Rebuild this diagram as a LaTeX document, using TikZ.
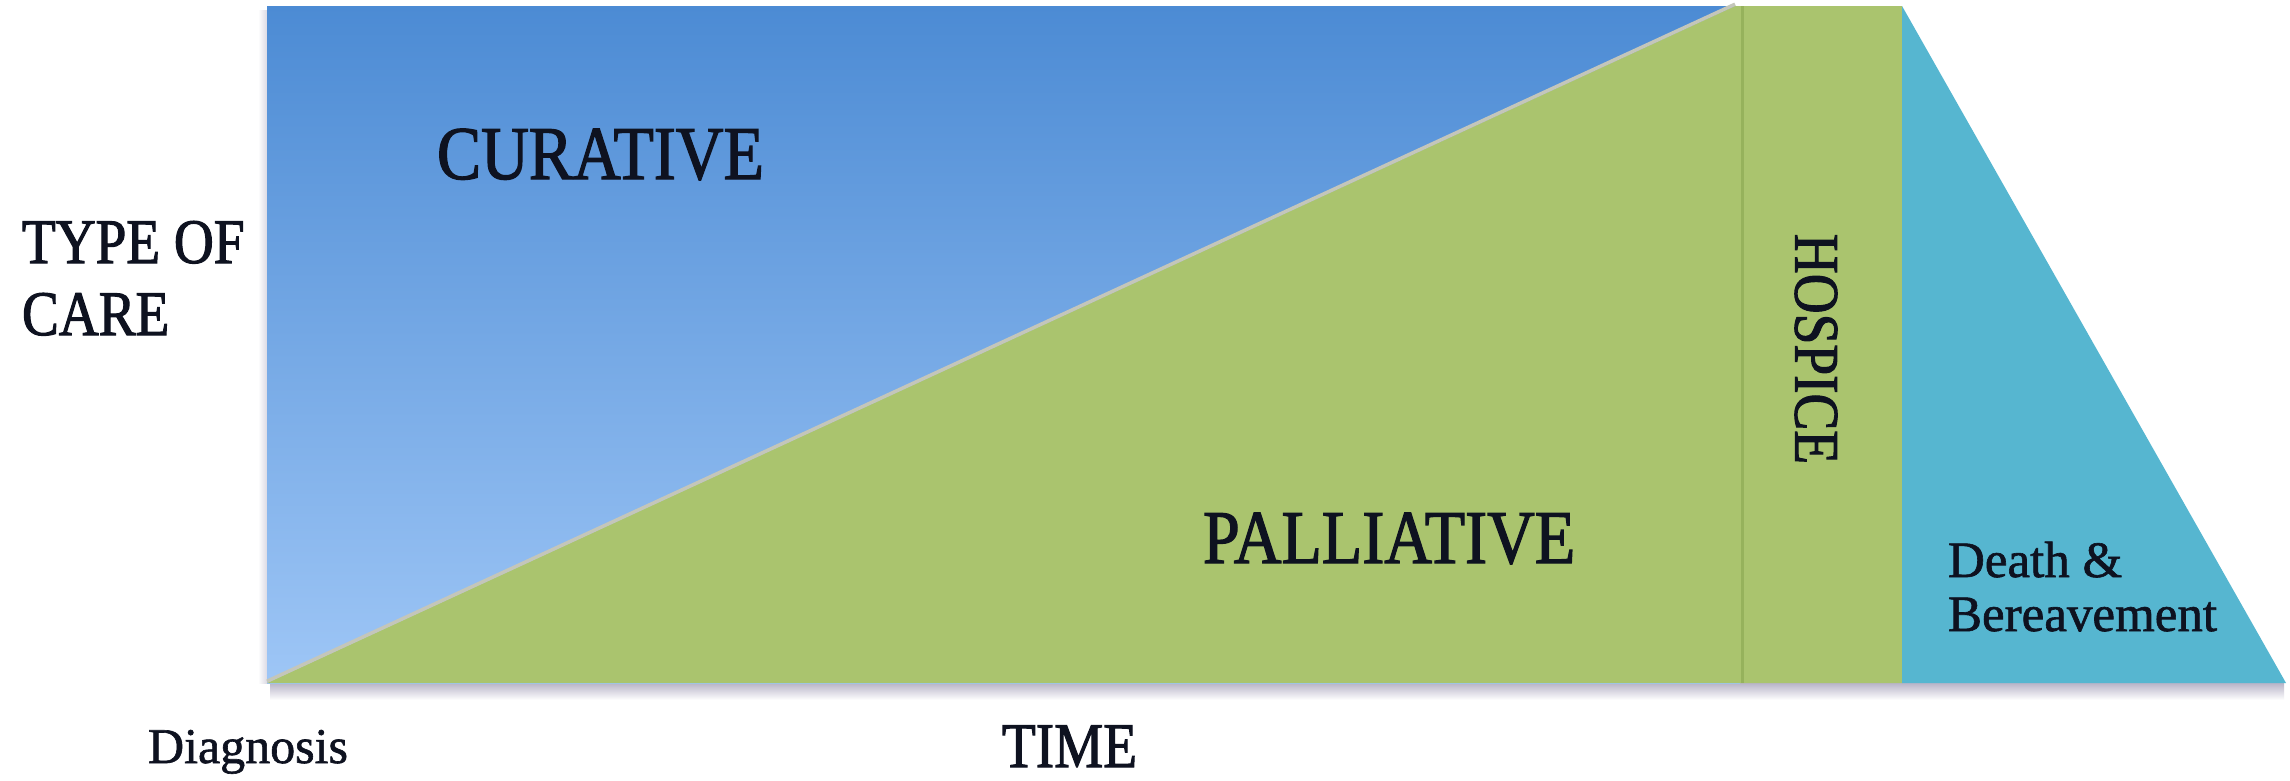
\documentclass[tikz,border=0pt]{standalone}
\usepackage{fontspec}
\setmainfont[FakeBold=1.2]{Liberation Serif}
\newfontfamily\capfont[FakeStretch=0.87,FakeBold=1.6]{Liberation Serif}
\definecolor{bluetop}{RGB}{76,139,212}
\definecolor{bluebot}{RGB}{158,198,246}
\definecolor{palgreen}{RGB}{170,196,110}
\definecolor{divgreen}{RGB}{150,178,92}
\definecolor{teal}{RGB}{86,182,208}
\definecolor{edgec}{RGB}{196,198,186}
\definecolor{shadowc}{RGB}{184,180,200}
\definecolor{txt}{RGB}{14,18,32}
\begin{document}
\begin{tikzpicture}[x=1pt,y=-1pt,
  lbl/.style={inner sep=0pt, outer sep=0pt, text=txt, anchor=base west},
  bigcap/.style={font=\capfont\fontsize{76}{80}\selectfont},
  midcap/.style={font=\capfont\fontsize{63.5}{70}\selectfont},
  smalltxt/.style={font=\fontsize{51}{56}\selectfont}]
\useasboundingbox (0,0) rectangle (2290,780);
\fill[white] (0,0) rectangle (2290,780);
% corners
\coordinate (tl) at (267,6);
\coordinate (bl) at (267,683);
\coordinate (dtop) at (1735,6);
\coordinate (divt) at (1742,6);
\coordinate (divb) at (1742,683);
\coordinate (ht) at (1902,6);
\coordinate (hb) at (1902,683);
\coordinate (tr) at (2286,683);
% soft shadow below
\shade[top color=shadowc, bottom color=white] (270,683) rectangle (2284,700);
\shade[left color=white, right color=shadowc!50] (258,10) rectangle (267,683);
% curative (blue, gradient)
\shade[top color=bluetop, bottom color=bluebot] (tl) rectangle (1740,683);
% palliative + hospice (green)
\fill[palgreen] (bl) -- (dtop) -- (ht) -- (hb) -- cycle;
% diagonal edge
\draw[edgec, line width=3.5pt] ([yshift=1.8pt]bl) -- ([yshift=1.8pt]dtop);
% divider between palliative and hospice
\draw[divgreen, line width=3pt] (divt) -- (divb);
% death & bereavement (teal)
\fill[teal] (ht) -- (hb) -- (tr) -- cycle;
% labels
\node[lbl, bigcap] (cur) at (437,179) {CURATIVE};
\node[lbl, bigcap] (pal) at (1203,563) {PALLIATIVE};
\node[lbl, midcap] (typeof) at (22,263) {TYPE OF};
\node[lbl, midcap] (care) at (22,335) {CARE};
\node[lbl, midcap] (time) at (1002,767) {TIME};
\node[inner sep=0pt, text=txt, midcap, rotate=-90] (hosp) at (1816,349) {HOSPICE};
\node[lbl, font=\fontsize{50}{56}\selectfont] (diag) at (148,763) {Diagnosis};
\node[lbl, smalltxt] (death) at (1948,577) {Death \&};
\node[lbl, smalltxt] (ber) at (1948,631) {Bereavement};
\end{tikzpicture}
\end{document}
